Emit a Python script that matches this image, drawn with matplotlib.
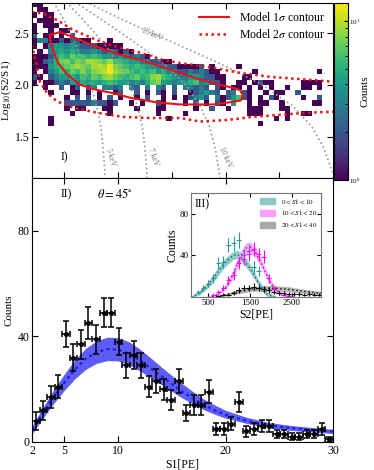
import numpy as np
import matplotlib
matplotlib.use("Agg")
import matplotlib.pyplot as plt
from matplotlib.colors import LogNorm
from matplotlib.patches import Patch

plt.rcParams["font.family"] = ["Liberation Serif", "DejaVu Serif"]
plt.rcParams["mathtext.fontset"] = "stix"
plt.rcParams["xtick.direction"] = "in"
plt.rcParams["ytick.direction"] = "in"
plt.rcParams["xtick.top"] = True
plt.rcParams["ytick.right"] = True

# ---- panel I: 2D histogram of log10(S2/S1) vs S1 ----
# one string per log10(S2/S1) row, top (2.80) to bottom, groups of 8 S1 bins (0.5 PE each)
# '.' = empty, hex digit = counts
hist_rows = [
    "11......",
    ".11.....",
    "1.11....",
    ".111....",
    "1.111...",
    "1..1.11.",
    "2.11.1.2",
    "13311212 211...1.",
    "1.134434 32221111 1.......",
    ".1.34545 43343232 121.....",
    "11125657 66565443 432321..",
    "11235786 87998796 65443322 11......",
    "11145678 9879a9c8 76565443 32211112 .1....1.",
    "1.134657 68689ac9 87656564 53322323 211..... .1...... .....1..",
    "21.23445 46576897 65675689 65433443 2211...1 1.......",
    "1.112324 35454565 44343578 44344563 4221..11 .1211... ..1111..",
    "..1..2.1 2.23.332 3.32.3.3 2.2.3323 2.21.11. 1.1.1..1 ..11.1..",
    "...1...1 1.1.1..1 2..2.1.2 1.2..123 432.23.2 1..1.11. .2......",
    "......1. 2.2.1.2. 1..1.2.. 1.1.1234 2.312462 1.1.21.. ..1..2..",
    "......22 22232212 ..1.1..2 1...1.2. 1.21.4.. 1.11..1. ....11..",
    "......1. 11...11. ...1...1 1.....1. .2..1... 111...11",
    ".......1 ......1. .......1 ....1... ........ 111....1 ..11....",
    "...1.... ........ ........ .1...... ........ .....1.1",
    "...1.... ........ ........ ........ ........ ..1.....",
]
n_s1_bins = 56
n_logr_bins = 34
s1_edges = np.linspace(2, 30, n_s1_bins + 1)
logr_edges = np.linspace(1.10, 2.80, n_logr_bins + 1)

# model contours (S1, log10(S2/S1))
c1_s1 = [3.67, 4.60, 5.81, 8.05, 10.19, 12.05, 14.19, 15.77, 17.63, 19.49, 20.70, 21.35, 21.63,
         21.44, 20.70, 18.84, 16.98, 15.77, 13.63, 11.12, 9.53, 8.05, 6.47, 5.26, 4.42, 3.95, 3.67, 3.67]
c1_logr = [2.48, 2.51, 2.46, 2.365, 2.29, 2.24, 2.17, 2.115, 2.05, 2.00, 1.97, 1.95, 1.895,
           1.85, 1.835, 1.81, 1.81, 1.81, 1.83, 1.875, 1.92, 1.95, 2.00, 2.10, 2.21, 2.34, 2.43, 2.48]
c2_up_s1 = [1.5, 2.09, 3.02, 4.33, 5.81, 8.05, 9.91, 12.05, 14.19, 15.77, 18.84, 21.35, 24.14, 27.58, 30.0, 31.0]
c2_up_logr = [2.73, 2.70, 2.69, 2.625, 2.53, 2.43, 2.365, 2.31, 2.24, 2.21, 2.165, 2.115, 2.077, 2.05, 2.03, 2.02]
c2_lo_s1 = [1.8, 2.09, 2.47, 2.74, 3.40, 4.33, 5.81, 8.05, 10.47, 12.70, 15.77, 17.63, 20.14, 22.56,
            25.07, 27.58, 30.0, 31.0]
c2_lo_logr = [2.50, 2.34, 2.17, 2.03, 1.92, 1.84, 1.78, 1.73, 1.69, 1.68, 1.68, 1.645, 1.66, 1.69,
              1.71, 1.73, 1.74, 1.745]

# constant-energy lines (S1 where each line crosses the listed log10(S2/S1) levels)
kev_levels = [2.8, 2.6, 2.4, 2.2, 2.0, 1.8, 1.6, 1.4, 1.2, 1.1]
kev_5_s1 = [4.0, 5.1, 6.0, 6.8, 7.5, 8.0, 8.4, 8.6, 8.75, 8.8]
kev_7_s1 = [5.2, 7.0, 8.7, 10.1, 11.1, 11.8, 12.25, 12.5, 12.65, 12.7]
kev_10_s1 = [6.0, 8.9, 11.7, 14.3, 16.3, 17.6, 18.5, 19.0, 19.35, 19.5]
kev_15_s1 = [7.0, 11.0, 15.3, 19.6, 23.4, 26.2, 28.0, 29.1, 29.8, 30.2]

# ---- panel II: S1 spectrum ----
s1_centers = [2.35, 3.05, 3.75, 4.45, 5.15, 5.85, 6.55, 7.25, 7.95, 8.65, 9.35, 10.05, 10.75, 11.45,
              12.15, 12.85, 13.55, 14.25, 14.95, 15.65, 16.35, 17.05, 17.75, 18.45, 19.15, 19.85,
              20.55, 21.25, 21.95, 22.65, 23.35, 24.05, 24.75, 25.45, 26.15, 26.85, 27.55, 28.25,
              28.95, 29.65]
s1_counts = [8, 12, 17, 21, 41, 32, 37, 45, 39, 49, 49, 38, 29, 33, 29, 21, 23, 20, 16, 23, 11, 14,
             14, 19, 5, 5, 7, 15, 4, 5, 6, 6, 3, 3, 2, 2, 3, 3, 5, 1]
s1_count_err = [3.3, 3.6, 4.1, 4.5, 5.0, 5.0, 5.5, 6.0, 5.5, 5.5, 5.5, 5.0, 4.8, 5.2, 4.8, 4.0, 4.5,
                4.0, 3.8, 4.5, 3.2, 3.8, 3.8, 4.3, 2.2, 2.2, 2.6, 3.8, 2.0, 2.2, 2.4, 2.4, 1.5, 1.5,
                1.3, 1.3, 1.5, 1.5, 2.2, 1.0]
s1_half_bin = 0.35

band_s1 = [2, 3, 4, 5, 6, 7, 8, 9, 10, 11, 12, 13, 14, 15, 16, 17, 18, 19, 20, 22, 24, 26, 28, 30]
band_mid = [4.5, 11, 17, 22.5, 27.5, 31.5, 34, 35.2, 35, 33.5, 31, 28, 25, 22, 19, 16.5, 14, 12,
            10.3, 8, 6.3, 5.3, 4.6, 4]
band_lo = [3, 9, 14.5, 19.5, 24, 27.5, 29.8, 30.8, 30.7, 29.3, 27, 24.5, 21.8, 19.2, 16.6, 14.4,
           12.2, 10.5, 9, 7, 5.4, 4.4, 3.8, 3.2]
band_hi = [6, 13, 19.7, 25.7, 31.2, 35.5, 38.3, 39.7, 39.5, 38, 35.3, 32, 28.5, 25.2, 22, 19, 16.2,
           14, 12, 9.3, 7.4, 6.3, 5.5, 4.8]

# ---- panel III: S2 spectra in S1 slices ----
s2_half_bin = 60
teal_s2 = [270, 390, 510, 630, 750, 870, 990, 1110, 1230, 1350, 1470, 1590, 1710, 1830]
teal_counts = [5, 9, 13, 18, 33, 34, 50, 52, 55, 40, 44, 29, 25, 6]
mag_s2 = [630, 750, 870, 990, 1110, 1230, 1350, 1470, 1590, 1710, 1830, 1950, 2070, 2190, 2310, 2430]
mag_counts = [2, 5, 9, 16, 21, 33, 37, 41, 46, 41, 39, 18, 8, 4, 2, 1]
blk_s2 = [750, 870, 990, 1110, 1230, 1350, 1470, 1590, 1710, 1830, 1950, 2070, 2190, 2310, 2430,
          2550, 2670, 2790, 2910, 3030, 3150]
blk_counts = [1, 2, 2, 4, 7, 9, 9, 10, 9, 8, 7, 5, 4, 4, 3, 3, 3, 2, 3, 2, 2]

teal_band_s2 = [100, 300, 500, 700, 900, 1100, 1200, 1300, 1500, 1700, 1900, 2100]
teal_band_mid = [0, 4, 12, 22, 33, 40, 41, 38, 28, 14, 3, 0]
teal_band_hw = [1, 2, 3, 4, 4, 4, 4, 4, 4, 3, 2, 1]
mag_band_s2 = [500, 700, 900, 1100, 1250, 1400, 1500, 1650, 1800, 2000, 2200, 2400, 2600]
mag_band_mid = [0, 2, 8, 22, 37, 47, 48, 42, 30, 13, 4, 1, 0]
mag_band_hw = [1, 1, 2, 4, 5, 5, 5, 5, 4, 3, 2, 1, 0.5]
gray_band_s2 = [600, 900, 1200, 1500, 1800, 2100, 2400, 2700, 3000, 3200]
gray_band_mid = [0, 2, 5, 7.5, 8.5, 8.5, 7.5, 6, 4.5, 3.5]
gray_band_hw = [0.5, 1, 2, 2.5, 2.5, 2.5, 2.5, 2, 2, 2]

# decode histogram strings
grid = []
for row in hist_rows:
    row = row.replace(" ", "").ljust(n_s1_bins, ".")
    grid.append([0 if ch == "." else int(ch, 16) for ch in row])
while len(grid) < n_logr_bins:
    grid.append([0] * n_s1_bins)
counts2d = np.ma.masked_equal(np.flipud(np.array(grid, dtype=float)), 0)

fig = plt.figure(figsize=(3.74, 4.70), dpi=100)
ax1 = fig.add_axes([0.0856, 0.6213, 0.8048, 0.3723])
ax2 = fig.add_axes([0.0856, 0.0596, 0.8048, 0.5617])
cax = fig.add_axes([0.893, 0.6170, 0.037, 0.3766])
axin = fig.add_axes([0.511, 0.368, 0.348, 0.221])

fs = 8.5

# panel I
mesh = ax1.pcolormesh(s1_edges, logr_edges, counts2d, cmap="viridis", norm=LogNorm(vmin=1, vmax=13))
for s1_line in [kev_5_s1, kev_7_s1, kev_10_s1, kev_15_s1]:
    ax1.plot(s1_line, kev_levels, color="0.6", ls=":", lw=1.2)
ax1.text(13.2, 2.49, "15 keV", color="0.45", fontsize=5.5, rotation=-22, ha="center", va="center")
ax1.text(9.3, 1.30, "5 keV", color="0.45", fontsize=5.5, rotation=-74, ha="center", va="center")
ax1.text(13.3, 1.30, "7 keV", color="0.45", fontsize=5.5, rotation=-70, ha="center", va="center")
ax1.text(20.0, 1.30, "10 keV", color="0.45", fontsize=5.5, rotation=-66, ha="center", va="center")
ax1.plot(c1_s1, c1_logr, color="#ee1111", lw=1.5, label=r"Model 1$\sigma$ contour")
ax1.plot(c2_up_s1, c2_up_logr, color="#ee1111", lw=1.8, ls=(0, (1, 1.4)), label=r"Model 2$\sigma$ contour")
ax1.plot(c2_lo_s1, c2_lo_logr, color="#ee1111", lw=1.8, ls=(0, (1, 1.4)))
ax1.set_xlim(2, 30)
ax1.set_ylim(1.1, 2.79)
ax1.set_xticks([5, 10, 15, 20, 25])
ax1.set_xticklabels([])
ax1.set_yticks([1.5, 2.0, 2.5])
ax1.set_yticklabels(["1.5", "2.0", "2.5"])
ax1.set_ylabel(r"Log$_{10}$(S2/S1)", fontsize=8, labelpad=1)
ax1.tick_params(labelsize=fs, length=4, pad=2)
ax1.text(4.7, 1.27, "I)", fontsize=fs)
ax1.legend(loc="upper right", frameon=False, fontsize=fs, handlelength=2.6,
           borderaxespad=0.3, labelspacing=0.35)

cb = fig.colorbar(mesh, cax=cax)
cb.set_label("Counts", fontsize=8, labelpad=0)
cb.ax.tick_params(labelsize=5, length=3, pad=1)

# panel II
ax2.fill_between(band_s1, band_lo, band_hi, color="#5d5df3", lw=0)
ax2.plot(band_s1, band_mid, color="#1c1ce8", ls=(0, (1.5, 1.5)), lw=1.5)
ax2.errorbar(s1_centers, s1_counts, xerr=s1_half_bin, yerr=s1_count_err, fmt="o", ms=2.6,
             color="black", ecolor="black", elinewidth=1.1, capsize=2.2, capthick=1.1)
ax2.set_xlim(2, 30)
ax2.set_ylim(0, 100)
ax2.set_xticks([2, 5, 10, 20, 30])
ax2.set_xticklabels(["2", "5", "10", "20", "30"])
ax2.set_yticks([0, 40, 80])
ax2.tick_params(labelsize=fs, length=4, pad=2)
ax2.set_xlabel("S1[PE]", fontsize=fs, labelpad=1)
ax2.set_ylabel("Counts", fontsize=8, labelpad=3)
ax2.text(4.7, 92.5, "II)", fontsize=fs)
ax2.text(8.0, 92.5, r"$\theta = 45^{\circ}$", fontsize=fs + 0.5)

# panel III (inset)
axin.fill_between(teal_band_s2, np.subtract(teal_band_mid, teal_band_hw),
                  np.add(teal_band_mid, teal_band_hw), color="#8fc9c9", lw=0)
axin.fill_between(mag_band_s2, np.subtract(mag_band_mid, mag_band_hw),
                  np.add(mag_band_mid, mag_band_hw), color="#ff9cff", lw=0, alpha=0.85)
axin.fill_between(gray_band_s2, np.subtract(gray_band_mid, gray_band_hw),
                  np.add(gray_band_mid, gray_band_hw), color="#a8a8a8", lw=0, alpha=0.85)
axin.plot(teal_band_s2, teal_band_mid, color="#1f7a7a", ls=":", lw=1.1)
axin.plot(mag_band_s2, mag_band_mid, color="#d000d0", ls=":", lw=1.1)
axin.plot(gray_band_s2, gray_band_mid, color="#222222", ls=":", lw=1.1)
axin.errorbar(teal_s2, teal_counts, xerr=s2_half_bin, yerr=np.sqrt(teal_counts), fmt="none",
              ecolor="#2a9595", elinewidth=0.8)
axin.errorbar(mag_s2, mag_counts, xerr=s2_half_bin, yerr=np.sqrt(mag_counts), fmt="none",
              ecolor="#ff00ff", elinewidth=0.8)
axin.errorbar(blk_s2, blk_counts, xerr=s2_half_bin, yerr=np.sqrt(blk_counts), fmt="none",
              ecolor="black", elinewidth=0.8)
axin.set_xlim(100, 3200)
axin.set_ylim(0, 100)
axin.set_xticks([500, 1500, 2500])
axin.set_yticks([40, 80])
axin.tick_params(labelsize=6.5, length=3, pad=1.5)
for sp in axin.spines.values():
    sp.set_color("0.45")
axin.set_xlabel("S2[PE]", fontsize=fs, labelpad=1)
axin.set_ylabel("Counts", fontsize=fs, labelpad=1)
axin.text(0.03, 0.86, "III)", fontsize=fs, transform=axin.transAxes)
handles = [Patch(color="#8fc9c9"), Patch(color="#ff9cff"), Patch(color="#a8a8a8")]
labels = [r"$0 < S1 < 10$", r"$10 < S1 < 20$", r"$20 < S1 < 40$"]
axin.legend(handles, labels, loc="upper right", frameon=False, fontsize=5, handlelength=2.2,
            handleheight=0.9, borderaxespad=0.2, labelspacing=0.5)

fig.savefig("out.png", dpi=100)
